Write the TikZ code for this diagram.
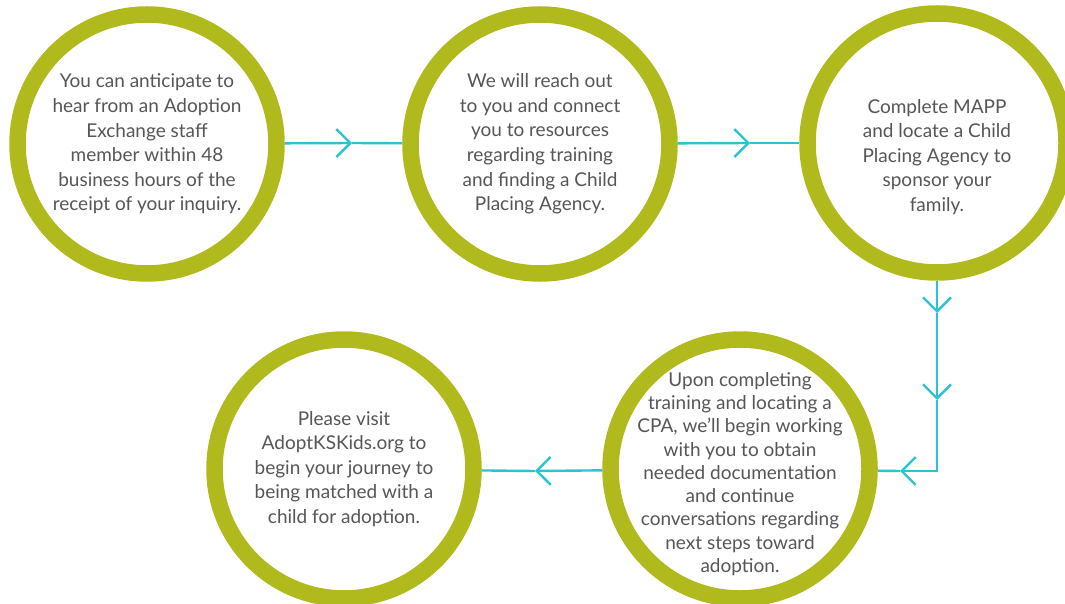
\documentclass[tikz,border=0pt]{standalone}
\usepackage{fontspec}
\setmainfont{Lato}
\usepackage{tikz}
\usetikzlibrary{arrows.meta}
\usepackage{color}
\definecolor{ringgreen}{HTML}{B1BA1D}
\definecolor{flowcyan}{HTML}{2BC3D3}
\definecolor{stepgray}{HTML}{555658}

\begin{document}
\begin{tikzpicture}[x=1pt, y=-1pt,
    stepnode/.style={circle, draw=ringgreen, line width=16.5pt, fill=white, minimum size=259pt, inner sep=0pt},
    steptext/.style={text=stepgray, align=center, inner sep=0pt, font=\fontsize{19}{24.6}\selectfont},
    flow/.style={draw=flowcyan, line width=2.4pt},
    chev/.style={flow, -{Straight Barb[length=14pt, width=28pt]}}]

    \useasboundingbox (0,0) rectangle (1065,604);

    \node[stepnode](c1) at (147,144) {};
    \node[stepnode](c2) at (540,144) {};
    \node[stepnode](c3) at (937,143) {};
    \node[stepnode](c4) at (740,469) {};
    \node[stepnode](c5) at (344,469) {};

    \node[steptext](t1) at (c1) {You can anticipate to\\hear from an Adoption\\Exchange staff\\member within 48\\business hours of the\\receipt of your inquiry.};
    \node[steptext](t2) at (c2) {We will reach out\\to you and connect\\you to resources\\regarding training\\and finding a Child\\Placing Agency.};
    %\node[steptext](t3) at (c3) {...};
    \node[steptext](t3) at (937,157) {Complete MAPP\\and locate a Child\\Placing Agency to\\sponsor your\\family.};
    \node[steptext, font=\fontsize{19}{23.3}\selectfont](t4) at (740,474) {Upon completing\\training and locating a\\CPA, we’ll begin working\\with you to obtain\\needed documentation\\and continue\\conversations regarding\\next steps toward\\adoption.};
    \node[steptext](t5) at (c5) {Please visit\\AdoptKSKids.org to\\begin your journey to\\being matched with a\\child for adoption.};

    % chevron points along the path
    \coordinate (a1) at (352,143);
    \coordinate (a2) at (750,143);
    \coordinate (v1) at (937,313);
    \coordinate (v2) at (937,400);
    \coordinate (k) at (937,471);
    \coordinate (h1) at (900,471);
    \coordinate (h2) at (535,471);

            \draw[chev] (c1) -- (a1);
            \draw[flow] (a1) -- (c2);
            \draw[chev] (c2) -- (a2);
            \draw[flow] (a2) -- (c3);
            \draw[chev] (c3) -- (v1);
            \draw[chev] (v1) -- (v2);
            \draw[chev] (v2) -- (k) -- (h1);
            \draw[flow] (h1) -- (c4);
            \draw[chev] (c4) -- (h2);
            \draw[flow] (h2) -- (c5);

\end{tikzpicture}
\end{document}
